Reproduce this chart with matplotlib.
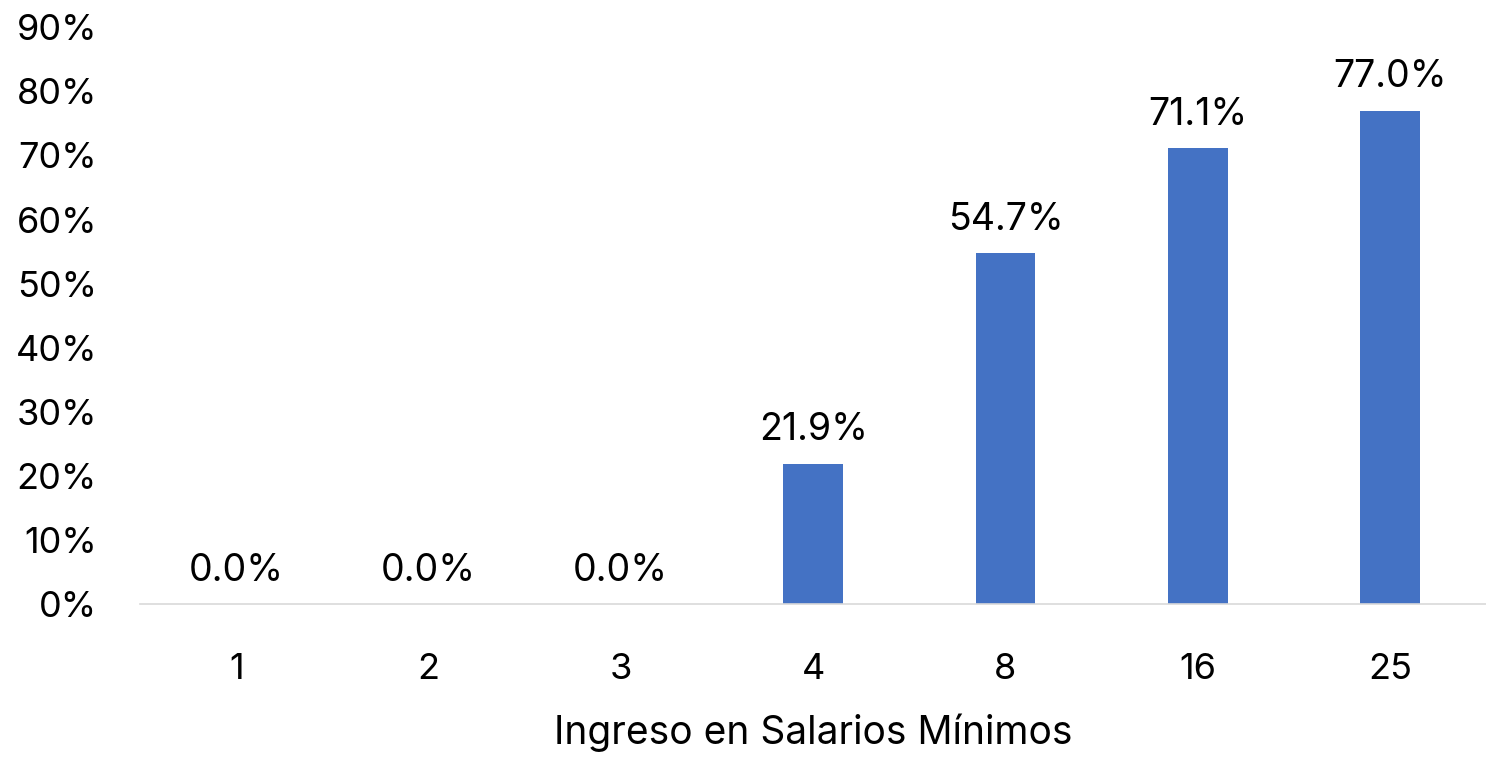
import matplotlib
matplotlib.use("Agg")
import matplotlib.pyplot as plt
from matplotlib.ticker import FuncFormatter

categories = ["1", "2", "3", "4", "8", "16", "25"]
values = [0.0, 0.0, 0.0, 21.9, 54.7, 71.1, 77.0]
yticks = [0, 10, 20, 30, 40, 50, 60, 70, 80, 90]

plt.rcParams['font.family'] = ['Inter', 'DejaVu Sans']

fig = plt.figure(figsize=(14.86, 7.57), dpi=100)
ax = fig.add_axes([0.0942, 0.202, 0.906, 0.762])

x = range(len(categories))
bars = ax.bar(x, values, width=0.31, color="#4472C4", zorder=2)
for xi, v in zip(x, values):
    ax.annotate(f"{v:.1f}%", (xi, v), xytext=(0, 11), textcoords="offset points",
                ha="center", va="bottom", fontsize=27, color="#000000")

ax.set_xlim(-0.5, len(categories) - 0.5)
ax.set_ylim(0, 90)
ax.set_yticks(yticks)
ax.yaxis.set_major_formatter(FuncFormatter(lambda v, p: f"{int(v)}%"))
ax.set_xticks(list(x))
ax.set_xticklabels(categories)
ax.tick_params(axis="both", length=0, labelsize=26, colors="#000000")
ax.tick_params(axis="x", pad=35)
ax.tick_params(axis="y", pad=31)
for s in ["top", "right", "left"]:
    ax.spines[s].set_visible(False)
ax.spines["bottom"].set_color("#D9D9D9")
ax.spines["bottom"].set_linewidth(1.2)
ax.set_xlabel("Ingreso en Salarios Mínimos", fontsize=28, labelpad=20)

fig.savefig("out.png", dpi=100)
